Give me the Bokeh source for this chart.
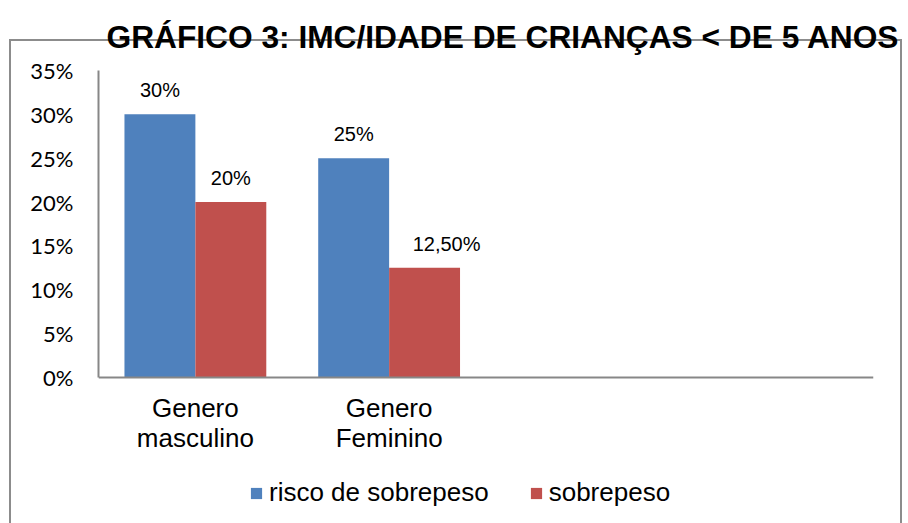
from bokeh.plotting import figure
from bokeh.models import (ColumnDataSource, Range1d, FixedTicker, NumeralTickFormatter,
                          Legend, LegendItem, InlineStyleSheet)
from bokeh.core.properties import value
from bokeh.embed import file_html
from bokeh.resources import INLINE

# ---- data ----
title_text = "GRÁFICO 3: IMC/IDADE DE CRIANÇAS < DE 5 ANOS"
categories = ["Genero\nmasculino", "Genero\nFeminino"]
n_slots = 4  # the chart reserves four category slots, two are empty
series_names = ["risco de sobrepeso", "sobrepeso"]
risco = [0.30, 0.25]
sobrepeso = [0.20, 0.125]
y_ticks = [0, 0.05, 0.10, 0.15, 0.20, 0.25, 0.30, 0.35]

# ---- styles ----
BLUE = "#4F81BD"
RED = "#C0504D"
AXIS = "#878787"
BAR_W = 0.366
ARIAL = "Liberation Sans"
PLOT_H = 307          # pixel height of the 0..35% value area
BELOW_H = 147         # room under the value area for labels and legend
Y_MIN = -y_ticks[-1] * BELOW_H / PLOT_H


def fmt(v):
    pct = v * 100
    if abs(pct - round(pct)) < 1e-9:
        return f"{pct:.0f}%"
    return f"{pct:.2f}%".replace(".", ",")


centers = [i + 0.5 for i in range(len(categories))]
src_b = ColumnDataSource(dict(x=[c - BAR_W / 2 for c in centers], top=risco,
                              lab=[fmt(v) for v in risco], dx=[0, 0]))
src_r = ColumnDataSource(dict(x=[c + BAR_W / 2 for c in centers], top=sobrepeso,
                              lab=[fmt(v) for v in sobrepeso], dx=[0, 22]))

p = figure(frame_width=775, frame_height=PLOT_H + BELOW_H, output_backend="svg",
           toolbar_location=None,
           x_range=Range1d(0, n_slots), y_range=Range1d(Y_MIN, y_ticks[-1]),
           min_border_left=98, min_border_right=35, min_border_top=69,
           min_border_bottom=0)
p.outline_line_color = None
p.xgrid.visible = False
p.ygrid.visible = False
p.background_fill_color = None
p.border_fill_color = None

# border box of the chart area (drawn behind the transparent canvas)
p.stylesheets = [InlineStyleSheet(css="""
:host { position: relative; }
:host::before {
  content: ""; position: absolute; left: 9px; top: 39px; width: 893px; height: 484px;
  border: 2px solid #8c8c8c; border-bottom: none; box-sizing: border-box;
  pointer-events: none;
}
""")]

rb = p.vbar(x="x", bottom=0, top="top", width=BAR_W, source=src_b, color=BLUE,
            line_color=None)
rr = p.vbar(x="x", bottom=0, top="top", width=BAR_W, source=src_r, color=RED,
            line_color=None)

for s in (src_b, src_r):
    p.text(x="x", y="top", text="lab", source=s, x_offset="dx", y_offset=-24,
           text_align="center", text_baseline="middle",
           text_font=value(ARIAL), text_font_size="20px", text_color="#000000")

# axes
p.yaxis.ticker = FixedTicker(ticks=y_ticks)
p.yaxis.bounds = (0, y_ticks[-1])
p.yaxis.formatter = NumeralTickFormatter(format="0%")
p.yaxis.major_tick_out = 0
p.yaxis.major_tick_in = 0
p.yaxis.minor_tick_out = 0
p.yaxis.minor_tick_in = 0
p.yaxis.major_label_standoff = 25
p.yaxis.major_label_text_font = "Lato"
p.yaxis.major_label_text_font_size = "22px"
p.yaxis.major_label_text_color = "#000000"
p.yaxis.axis_line_color = AXIS
p.yaxis.axis_line_width = 2

p.xaxis.fixed_location = 0
p.xaxis.ticker = FixedTicker(ticks=centers)
p.xaxis.major_label_overrides = {c: lab for c, lab in zip(centers, categories)}
p.xaxis.major_tick_out = 0
p.xaxis.major_tick_in = 0
p.xaxis.minor_tick_out = 0
p.xaxis.minor_tick_in = 0
p.xaxis.major_label_standoff = 15
p.xaxis.major_label_text_font = ARIAL
p.xaxis.major_label_text_font_size = "26px"
p.xaxis.major_label_text_color = "#000000"
p.xaxis.major_label_text_line_height = 1.0
p.xaxis.axis_line_color = AXIS
p.xaxis.axis_line_width = 2

# title
p.title.text = title_text
p.title.align = "left"
p.title.offset = 8
p.title.standoff = 32
p.title.text_font = ARIAL
p.title.text_font_style = "bold"
p.title.text_font_size = "31.7px"
p.title.text_color = "#000000"

# legend (under the category labels, inside the frame)
legend = Legend(items=[LegendItem(label=series_names[0], renderers=[rb]),
                       LegendItem(label=series_names[1], renderers=[rr])],
                location=(151, 16), orientation="horizontal",
                glyph_width=14, glyph_height=14, label_standoff=6, spacing=40,
                padding=0, margin=0, border_line_color=None,
                background_fill_alpha=0,
                label_text_font=ARIAL, label_text_font_size="26px",
                label_text_color="#000000")
p.add_layout(legend, "center")

open("out.html", "w").write(file_html(p, INLINE))
